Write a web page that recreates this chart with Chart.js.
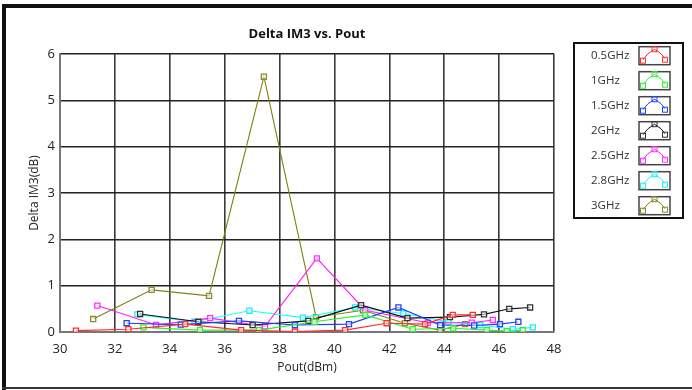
<!DOCTYPE html>
<html>
<head>
<meta charset="utf-8">
<script src="https://cdn.jsdelivr.net/npm/chart.js@4/dist/chart.umd.min.js"></script>
<style>
html,body{margin:0;padding:0;background:#fff;}
#wrap{width:692px;height:390px;position:relative;}
</style>
</head>
<body>
<div id="wrap"><canvas id="c" width="692" height="390"></canvas></div>
<script>
// ---- data ----
const seriesLabels = ['0.5GHz','1GHz','1.5GHz','2GHz','2.5GHz','2.8GHz','3GHz'];
const xTicks = [30,32,34,36,38,40,42,44,46,48];

const pout05 = [30.58,32.49,34.56,36.6,38.56,40.39,41.9,43.3,44.31,45.04];
const dim05  = [0.03,0.06,0.17,0.04,0.01,0.04,0.19,0.17,0.37,0.37];

const pout1 = [33.04,35.1,37.25,39.27,41.12,42.85,44.33,45.55,46.28,46.86];
const dim1  = [0.10,0.04,0.04,0.22,0.37,0.06,0.08,0.04,0.02,0.04];

const pout15 = [32.43,34.4,36.52,38.56,40.53,42.33,43.85,45.09,46.03,46.7];
const dim15  = [0.19,0.16,0.24,0.15,0.17,0.53,0.15,0.14,0.17,0.22];

const pout2 = [32.92,35.04,37.02,39.05,40.97,42.66,44.21,45.45,46.37,47.13];
const dim2  = [0.39,0.22,0.15,0.24,0.58,0.30,0.32,0.38,0.50,0.53];

const pout25 = [31.36,33.5,35.47,37.47,39.36,41.12,43.4,45.0,45.77];
const dim25  = [0.57,0.15,0.30,0.12,1.59,0.47,0.20,0.20,0.26];

const pout28 = [32.82,34.9,36.9,38.85,40.75,42.51,44.15,45.31,46.5,47.23];
const dim28  = [0.38,0.22,0.46,0.31,0.53,0.40,0.22,0.15,0.06,0.10];

const pout3 = [31.21,33.34,35.43,37.43,39.33,41.04,42.57,43.85,44.76];
const dim3  = [0.28,0.91,0.78,5.51,0.32,0.47,0.19,0.04,0.17];

const lineColors   = ['#ff2a2a','#2ef02e','#1a3cff','#111111','#ff1aff','#1affff','#808010'];
const markerColors = ['#ff3030','#33ee33','#2244ff','#333333','#ff33ff','#22eeee','#8a8a30'];

const xs = [pout05,pout1,pout15,pout2,pout25,pout28,pout3];
const ys = [dim05,dim1,dim15,dim2,dim25,dim28,dim3];

const FONT = "'Open Sans', 'DejaVu Sans', sans-serif";

const datasets = seriesLabels.map((lab,i)=>({
  label: lab,
  data: xs[i].map((x,k)=>({x:x, y:ys[i][k]})),
  showLine: true,
  borderColor: lineColors[i],
  borderWidth: 1.1,
  tension: 0,
  pointStyle: 'rect',
  pointRadius: 3.6,
  pointBorderWidth: 1.3,
  pointBorderColor: markerColors[i],
  pointBackgroundColor: 'rgba(255,255,255,0.55)'
}));

const framePlugin = {
  id: 'frame',
  beforeDraw(chart){
    const ctx = chart.ctx;
    ctx.save();
    ctx.fillStyle = '#fff';
    ctx.fillRect(0,0,chart.width,chart.height);
    ctx.restore();
  },
  afterDraw(chart){
    const ctx = chart.ctx;
    ctx.save();
    ctx.fillStyle = '#111';
    ctx.fillRect(2,4,chart.width-2,4);   // top bar
    ctx.fillRect(2,4,4,chart.height-4);  // left bar
    ctx.fillStyle = '#333';
    ctx.fillRect(2,387,chart.width-2,2); // bottom line
    // legend
    const bx=574, by=43, bw=109, bh=175;
    ctx.strokeStyle = '#111';
    ctx.lineWidth = 2;
    ctx.strokeRect(bx,by,bw,bh);
    ctx.font = "11.5px " + FONT;
    ctx.textBaseline = 'middle';
    ctx.textAlign = 'left';
    chart.data.datasets.forEach((ds,i)=>{
      const cy = 55.7 + 25*i;
      ctx.fillStyle = '#333';
      ctx.fillText(ds.label, 591, cy);
      const ix=639, iy=cy-9, iw=31, ih=18;
      ctx.strokeStyle = '#444';
      ctx.lineWidth = 1.5;
      ctx.strokeRect(ix,iy,iw,ih);
      const pts = [[ix+4,iy+13],[ix+9,iy+7],[ix+15.5,iy+2.5],[ix+22,iy+7],[ix+26,iy+12]];
      ctx.strokeStyle = ds.borderColor;
      ctx.lineWidth = 1;
      ctx.beginPath();
      pts.forEach((p,k)=>{ if(k===0) ctx.moveTo(p[0],p[1]); else ctx.lineTo(p[0],p[1]); });
      ctx.stroke();
      ctx.strokeStyle = ds.pointBorderColor;
      [[pts[0][0],pts[0][1]+1],[pts[2][0],pts[2][1]],[pts[4][0],pts[4][1]+1]].forEach(p=>{
        ctx.strokeRect(p[0]-2.5,p[1]-2.5,5,5);
      });
    });
    ctx.restore();
  }
};

new Chart(document.getElementById('c'), {
  type: 'scatter',
  data: { datasets },
  plugins: [framePlugin],
  options: {
    responsive: false,
    animation: false,
    devicePixelRatio: 1,
    layout: { padding: { left: 0, right: 138, top: 0, bottom: 0 } },
    plugins: {
      legend: { display: false },
      tooltip: { enabled: false },
      title: {
        display: true,
        text: 'Delta IM3 vs. Pout',
        fullSize: false,
        color: '#111',
        font: { family: FONT, size: 13, weight: 'bold' },
        padding: { top: 26, bottom: 12.4 }
      }
    },
    scales: {
      x: {
        type: 'linear',
        min: 30, max: 48,
        afterBuildTicks(s){ s.ticks = xTicks.map(v=>({value:v})); },
        afterFit(s){ s.height = 58; },
        ticks: { color: '#222', font: { family: FONT, size: 13 }, padding: 9, maxRotation: 0 },
        grid: { color: '#3a3a3a', lineWidth: 1.6, drawTicks: false },
        border: { color: '#777', width: 2 },
        title: { display: true, text: 'Pout(dBm)', color: '#222',
                 font: { family: FONT, size: 12 }, padding: { top: 2, bottom: 14.8 } }
      },
      y: {
        type: 'linear',
        min: 0, max: 6,
        afterFit(s){ s.width = 60; },
        ticks: { stepSize: 1, color: '#222', font: { family: FONT, size: 13 }, padding: 5 },
        grid: { color: '#222', lineWidth: 1.6, drawTicks: false },
        border: { color: '#777', width: 2 },
        title: { display: true, text: 'Delta IM3(dB)', color: '#222',
                 font: { family: FONT, size: 12 }, padding: { top: 27.8, bottom: 0 } }
      }
    }
  }
});
</script>
</body>
</html>
